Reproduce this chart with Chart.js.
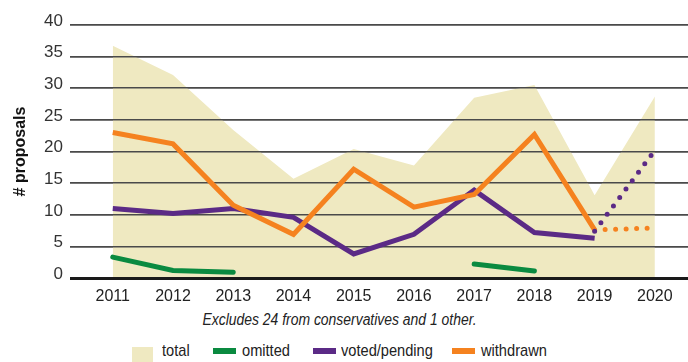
<!DOCTYPE html>
<html>
<head>
<meta charset="utf-8">
<script src="https://cdn.jsdelivr.net/npm/chart.js@4"></script>
<style>
  html, body { margin: 0; padding: 0; background: #fff; }
  body { width: 688px; height: 362px; position: relative; overflow: hidden;
         font-family: 'Liberation Sans Narrow', 'Liberation Sans', Arial, sans-serif; color: #222; }
  #wrap { position: absolute; left: 0; top: 0; width: 688px; height: 310px; }
  #note { position: absolute; left: 0; width: 688px; top: 311px; text-align: center;
          font-size: 16px; font-style: italic; line-height: 18px; }
  #note span { display: inline-block; position: relative; left: -4px; transform: scaleX(0.87); }
  #legend { position: absolute; left: 0; top: 340px; width: 688px; height: 22px; font-size: 17px; }
  #legend > span { position: absolute; }
  #legend .box { width: 21px; height: 24px; top: 7px; }
  #legend .bar { width: 23px; height: 6px; top: 8px; }
  #legend .txt { top: 1px; line-height: 20px; transform: scaleX(0.86); transform-origin: left center; white-space: nowrap; }
</style>
</head>
<body>
<div id="wrap"><canvas id="proposalsChart"></canvas></div>
<div id="note"><span>Excludes 24 from conservatives and 1 other.</span></div>
<div id="legend"></div>

<script>
const totalColor     = '#efe9c1';
const omittedColor   = '#0a8a40';
const votedColor     = '#5b2a86';
const withdrawnColor = '#f5821f';

const years   = [2011, 2012, 2013, 2014, 2015, 2016, 2017, 2018, 2019, 2020];
const yTicks  = [0, 5, 10, 15, 20, 25, 30, 35, 40];

const total     = [36.7, 32.1, 23.4, 15.7, 20.4, 17.8, 28.5, 30.5, 13.1, 28.7];
const omitted   = [3.3, 1.2, 0.9, null, null, null, 2.2, 1.1, null, null];
const voted     = [11.0, 10.2, 11.0, 9.6, 3.8, 6.9, 13.9, 7.2, 6.3, null];
const withdrawn = [23.0, 21.2, 11.5, 6.9, 17.2, 11.2, 13.2, 22.7, 7.6, null];
// 2020 は見込み（点線）
const votedPending     = [null, null, null, null, null, null, null, null, 7.4, 20.2];
const withdrawnPending = [null, null, null, null, null, null, null, null, 7.6, 7.9];

const fontFamily = "'Liberation Sans Narrow', 'Liberation Sans', Arial, sans-serif";
const toPoints = arr => years.map((x, i) => ({ x, y: arr[i] }));

function solidLine(label, data, color) {
    return {
        label,
        data: toPoints(data),
        borderColor: color,
        backgroundColor: color,
        borderWidth: 5,
        borderJoinStyle: 'miter',
        pointRadius: 0,
        fill: false,
        tension: 0,
        spanGaps: false,
    };
}

function dottedLine(label, data, color) {
    return Object.assign(solidLine(label, data, color), {
        borderDash: [0, 10.5],
        borderCapStyle: 'round',
    });
}

// 塗りつぶしの上にもう一度グリッド線を描く
const gridOverArea = {
    id: 'gridOverArea',
    afterDatasetDraw(chart, args) {
        if (chart.data.datasets[args.index].label === 'total') {
            chart.scales.y.drawGrid(chart.chartArea);
        }
    }
};

new Chart(document.getElementById('proposalsChart').getContext('2d'), {
    type: 'line',
    data: {
        datasets: [
            dottedLine('voted/pending (pending)', votedPending, votedColor),
            solidLine('withdrawn', withdrawn, withdrawnColor),
            dottedLine('withdrawn (pending)', withdrawnPending, withdrawnColor),
            solidLine('voted/pending', voted, votedColor),
            Object.assign(solidLine('omitted', omitted, omittedColor), { borderCapStyle: 'round' }),
            {
                label: 'total',
                data: toPoints(total),
                borderWidth: 0,
                borderColor: 'transparent',
                backgroundColor: totalColor,
                pointRadius: 0,
                fill: 'origin',
                tension: 0,
            }
        ]
    },
    options: {
        responsive: true,
        maintainAspectRatio: false,
        animation: false,
        layout: { padding: { top: 25, right: 0, left: 0, bottom: 0 } },
        plugins: {
            legend: { display: false },
            tooltip: { enabled: false }
        },
        scales: {
            x: {
                type: 'linear',
                min: 2010.29,
                max: 2020.55,
                afterBuildTicks: axis => { axis.ticks = years.map(v => ({ value: v })); },
                afterFit: axis => { axis.height = 32; },
                grid: { display: false, drawTicks: false },
                border: { display: false },
                ticks: {
                    callback: v => String(v),
                    padding: 9,
                    color: '#222',
                    maxRotation: 0,
                    autoSkip: false,
                    font: { family: fontFamily, size: 16 }
                }
            },
            y: {
                min: 0,
                max: 40,
                afterBuildTicks: axis => { axis.ticks = yTicks.map(v => ({ value: v })); },
                afterFit: axis => { axis.width = 70; },
                border: { display: false },
                grid: {
                    drawTicks: false,
                    color: ctx => ctx.tick.value === 0 ? '#1a1a1a' : '#4a4a4a',
                    lineWidth: ctx => ctx.tick.value === 0 ? 3 : 1.6
                },
                ticks: {
                    padding: 7,
                    color: '#333',
                    font: { family: fontFamily, size: 17, lineHeight: 0.45 },
                    // 目盛りラベルを線より少し上に
                    callback: v => [String(v), '']
                },
                title: {
                    display: true,
                    text: '# proposals',
                    color: '#111',
                    padding: { top: 11, bottom: 0 },
                    font: { family: "'Liberation Sans', Arial, sans-serif", size: 16, weight: 'bold' }
                }
            }
        }
    },
    plugins: [gridOverArea]
});

// 凡例
const legendItems = [
    { text: 'total',         color: totalColor,     cls: 'box', sw: 132, tx: 162 },
    { text: 'omitted',       color: omittedColor,   cls: 'bar', sw: 213, tx: 242 },
    { text: 'voted/pending', color: votedColor,     cls: 'bar', sw: 313, tx: 341 },
    { text: 'withdrawn',     color: withdrawnColor, cls: 'bar', sw: 452, tx: 481 },
];
const legend = document.getElementById('legend');
legendItems.forEach(item => {
    const sw = document.createElement('span');
    sw.className = item.cls;
    sw.style.background = item.color;
    sw.style.left = item.sw + 'px';
    const label = document.createElement('span');
    label.className = 'txt';
    label.style.left = item.tx + 'px';
    label.textContent = item.text;
    legend.append(sw, label);
});
</script>
</body>
</html>
